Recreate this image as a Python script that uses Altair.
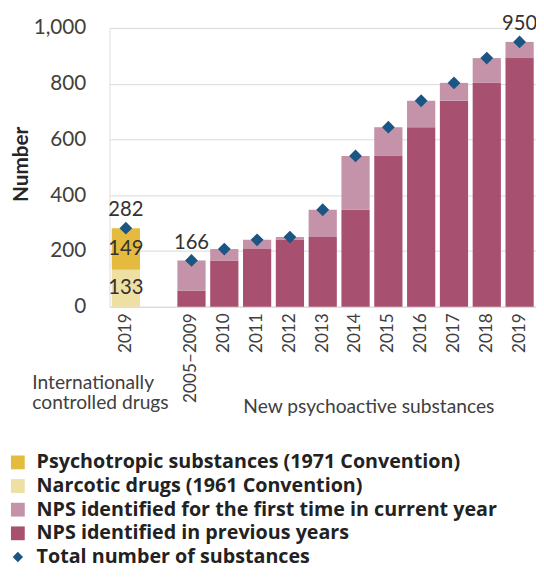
import altair as alt
import pandas as pd

# ---- data ----
categories = ["C2019", "gap", "2005–2009", "2010", "2011", "2012", "2013",
              "2014", "2015", "2016", "2017", "2018", "2019"]
nps_years = ["2005–2009", "2010", "2011", "2012", "2013", "2014", "2015",
             "2016", "2017", "2018", "2019"]
nps_previous = [57, 166, 207, 240, 250, 348, 541, 644, 739, 803, 892]
nps_new = [109, 41, 33, 10, 98, 193, 103, 95, 64, 89, 58]
nps_total = [166, 207, 240, 250, 348, 541, 644, 739, 803, 892, 950]
controlled_cat = "C2019"
controlled_narcotic = 133
controlled_psychotropic = 149
controlled_total = 282
labelled_totals = ["C2019", "2005–2009", "2019"]

series_names = [
    "Psychotropic substances (1971 Convention)",
    "Narcotic drugs (1961 Convention)",
    "NPS identified for the first time in current year",
    "NPS identified in previous years",
    "Total number of substances",
]
series_colors = ["#E4BB3E", "#EEDFA3", "#C492A9", "#A8506F", "#1A5584"]
DIAMOND = "M-0.75,0L0,-0.75L0.75,0L0,0.75Z"
series_shapes = ["square", "square", "square", "square", DIAMOND]

FONT = "Lato"
LEGEND_FONT = "Open Sans"

# ---- tables ----
bar_rows = [
    {"cat": controlled_cat, "series": series_names[1], "value": controlled_narcotic, "ord": 0},
    {"cat": controlled_cat, "series": series_names[0], "value": controlled_psychotropic, "ord": 1},
]
for yr, prev, new in zip(nps_years, nps_previous, nps_new):
    bar_rows.append({"cat": yr, "series": series_names[3], "value": prev, "ord": 0})
    bar_rows.append({"cat": yr, "series": series_names[2], "value": new, "ord": 1})
bars_df = pd.DataFrame(bar_rows)

tot_cats = [controlled_cat] + nps_years
tot_vals = [controlled_total] + nps_total
totals_df = pd.DataFrame({
    "cat": tot_cats,
    "value": tot_vals,
    "series": series_names[4],
    "lbl": [str(v) if c in labelled_totals else "" for c, v in zip(tot_cats, tot_vals)],
})

# ---- shared encodings ----
x_scale = alt.Scale(domain=categories, paddingInner=0.14, paddingOuter=0.07, round=False)
x_axis = alt.Axis(
    title=None, labelAngle=270, ticks=False, domain=False, grid=False,
    labelFont=FONT, labelFontSize=17.5, labelColor="#404040", labelPadding=6,
    labelExpr="datum.value == 'C2019' ? '2019' : (datum.value == 'gap' ? '' : datum.value)",
)
x_enc = alt.X("cat:N", scale=x_scale, axis=x_axis, sort=categories)

y_scale = alt.Scale(domain=[0, 1000], nice=False)
y_axis = alt.Axis(
    title="Number", values=[0, 200, 400, 600, 800, 1000], format=",d",
    ticks=False, domain=False, grid=True, gridColor="#D9D9D9", gridWidth=1,
    labelFont=FONT, labelFontSize=21, labelColor="#404040", labelPadding=24,
    titleFont=FONT, titleFontSize=21, titleFontWeight="bold", titleColor="#262626",
    titleAngle=270, titleX=-89, titleY=138, titleBaseline="middle", titleAlign="center",
)

color_enc = alt.Color(
    "series:N",
    scale=alt.Scale(domain=series_names, range=series_colors),
    legend=alt.Legend(
        orient="none", legendX=-103, legendY=431, title=None, padding=0,
        labelFont=LEGEND_FONT, labelFontSize=20, labelFontWeight="bold", labelColor="#222222",
        symbolSize=196, symbolStrokeWidth=0, rowPadding=4, labelOffset=9,
        labelLimit=600,
    ),
)

bars = alt.Chart(bars_df).mark_bar().encode(
    x=x_enc,
    y=alt.Y("value:Q", stack="zero", scale=y_scale, axis=y_axis),
    color=color_enc,
    order=alt.Order("ord:Q"),
)

inner_labels = alt.Chart(bars_df).transform_filter(
    alt.datum.cat == controlled_cat
).transform_stack(
    stack="value", groupby=["cat"], as_=["y0", "y1"], sort=[alt.SortField("ord")]
).transform_calculate(
    mid="(datum.y0 + datum.y1) / 2"
).mark_text(font=FONT, fontSize=20.5, color="#333333", baseline="middle").encode(
    x=x_enc,
    y=alt.Y("mid:Q", scale=y_scale, axis=y_axis),
    text=alt.Text("value:Q"),
)

points = alt.Chart(totals_df).mark_point(filled=True, size=300, opacity=1).encode(
    x=x_enc,
    y=alt.Y("value:Q", scale=y_scale, axis=y_axis),
    color=color_enc,
    shape=alt.Shape("series:N", scale=alt.Scale(domain=series_names, range=series_shapes)),
)

total_labels = alt.Chart(totals_df).mark_text(
    font=FONT, fontSize=20.5, color="#333333", baseline="bottom", dy=-8
).encode(
    x=x_enc,
    y=alt.Y("value:Q", scale=y_scale, axis=y_axis),
    text="lbl:N",
)

ann_left = alt.Chart(pd.DataFrame({"cat": [controlled_cat],
                                   "txt": ["Internationally\ncontrolled drugs"]})).mark_text(
    font=FONT, fontSize=19.5, color="#404040", align="left", baseline="top",
    lineBreak="\n", lineHeight=21, dx=-95,
).encode(x=x_enc, y=alt.value(351), text="txt:N")

ann_right = alt.Chart(pd.DataFrame({"cat": ["2011"],
                                    "txt": ["New psychoactive substances"]})).mark_text(
    font=FONT, fontSize=19.5, color="#404040", align="left", baseline="middle", dx=-14,
).encode(x=x_enc, y=alt.value(385), text="txt:N")

chart = alt.layer(bars, inner_labels, points, total_labels, ann_left, ann_right).properties(
    width=433, height=283,
    padding={"left": 103, "top": 16, "right": 0, "bottom": 266},
    autosize=alt.AutoSizeParams(type="none"),
).configure_view(stroke=None).configure(background="white")

chart.save("out.html", embed_options={"renderer": "svg", "actions": False})
